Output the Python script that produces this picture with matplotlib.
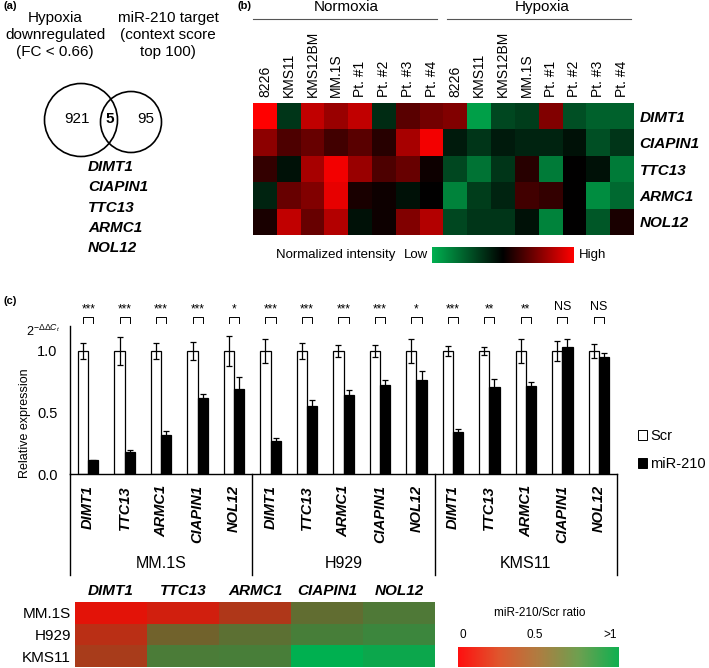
import numpy as np
import matplotlib
matplotlib.use('Agg')
import matplotlib.pyplot as plt
from matplotlib.colors import LinearSegmentedColormap
from matplotlib.patches import Circle, Patch

plt.rcParams['font.family'] = 'Liberation Sans'
plt.rcParams['mathtext.fontset'] = 'custom'
plt.rcParams['mathtext.rm'] = 'Liberation Sans'
plt.rcParams['mathtext.it'] = 'Liberation Sans:italic'

# ---- data ----
# (a) venn
set_a_title = 'Hypoxia\ndownregulated\n(FC < 0.66)'
set_b_title = 'miR-210 target\n(context score\ntop 100)'
only_a, both, only_b = 921, 5, 95
overlap_genes = ['DIMT1', 'CIAPIN1', 'TTC13', 'ARMC1', 'NOL12']

# (b) microarray heatmap
b_samples = ['8226', 'KMS11', 'KMS12BM', 'MM.1S', 'Pt. #1', 'Pt. #2', 'Pt. #3', 'Pt. #4']
b_conditions = ['Normoxia', 'Hypoxia']
b_genes = ['DIMT1', 'CIAPIN1', 'TTC13', 'ARMC1', 'NOL12']
dimt1 = [1.0, -0.3, 0.75, 0.6, 0.75, -0.25, 0.35, 0.45,
         0.5, -0.9, -0.4, -0.35, 0.5, -0.45, -0.55, -0.55]
ciapin1 = [0.55, 0.3, 0.4, 0.25, 0.35, 0.15, 0.65, 0.95,
           -0.15, -0.3, -0.15, -0.2, -0.2, -0.1, -0.45, -0.3]
ttc13 = [0.2, -0.1, 0.65, 0.95, 0.6, 0.3, 0.4, 0.05,
         -0.4, -0.65, -0.3, 0.15, -0.7, 0.0, -0.1, -0.7]
armc1 = [-0.2, 0.4, 0.5, 0.9, 0.1, 0.05, -0.1, 0.0,
         -0.75, -0.35, -0.2, 0.25, 0.2, 0.0, -0.8, -0.6]
nol12 = [0.1, 0.75, 0.4, 0.7, -0.1, 0.05, 0.5, 0.7,
         -0.4, -0.3, -0.3, -0.1, -0.75, 0.0, -0.5, 0.1]

# (c) qPCR
c_genes = ['DIMT1', 'TTC13', 'ARMC1', 'CIAPIN1', 'NOL12']
c_lines = ['MM.1S', 'H929', 'KMS11']
scr_mean = [1.0] * 15
scr_err = [0.065, 0.11, 0.065, 0.07, 0.12,
           0.095, 0.065, 0.05, 0.045, 0.10,
           0.04, 0.035, 0.10, 0.08, 0.06]
mir_mean = [0.11, 0.18, 0.315, 0.62, 0.69,
            0.27, 0.555, 0.64, 0.72, 0.765,
            0.34, 0.705, 0.715, 1.035, 0.95]
mir_err = [0.005, 0.012, 0.035, 0.03, 0.095,
           0.025, 0.045, 0.04, 0.045, 0.075,
           0.025, 0.065, 0.035, 0.065, 0.03]
sig = ['***', '***', '***', '***', '*',
       '***', '***', '***', '***', '*',
       '***', '**', '**', 'NS', 'NS']

# ---- figure ----
W, H = 709, 668
fig = plt.figure(figsize=(W / 100, H / 100), dpi=100)


def box(x0, y0, x1, y1):
    return [x0 / W, 1 - y1 / H, (x1 - x0) / W, (y1 - y0) / H]


# overlay in pixel coordinates for free text
ov = fig.add_axes([0, 0, 1, 1])
ov.set_xlim(0, W)
ov.set_ylim(H, 0)
ov.axis('off')

# ---- (a) ----
ov.text(4, 6, '(a)', fontsize=8, fontweight='bold', ha='left', va='center')
ov.text(55, 35, set_a_title, fontsize=11, ha='center', va='center', linespacing=1.3)
ov.text(168, 35, set_b_title, fontsize=11, ha='center', va='center', linespacing=1.3)
ov.add_patch(Circle((81, 120), 36.5, fill=False, lw=1.2, ec='black'))
ov.add_patch(Circle((131, 122), 30.5, fill=False, lw=1.2, ec='black'))
ov.text(77, 119, str(only_a), fontsize=11, ha='center', va='center')
ov.text(110, 119, str(both), fontsize=11, fontweight='bold', ha='center', va='center')
ov.text(146, 119, str(only_b), fontsize=11, ha='center', va='center')
for i, g in enumerate(overlap_genes):
    ov.text(88, 167 + i * 20.3, g, fontsize=11, fontweight='bold', fontstyle='italic',
            ha='left', va='center')

# ---- (b) ----
cmap_b = LinearSegmentedColormap.from_list('gkr', ['#00B050', '#000000', '#FF0000'])
mat_b = np.array([dimt1, ciapin1, ttc13, armc1, nol12])
axb = fig.add_axes(box(253, 103, 634, 235))
axb.imshow(mat_b, cmap=cmap_b, vmin=-1, vmax=1, aspect='auto', interpolation='nearest')
axb.set_xticks(range(16))
axb.set_xticklabels(b_samples * 2, rotation=90, fontsize=10)
axb.xaxis.tick_top()
axb.set_yticks(range(5))
axb.set_yticklabels(b_genes, fontsize=11, fontweight='bold', fontstyle='italic')
axb.yaxis.tick_right()
axb.tick_params(length=0, pad=4)
for s in axb.spines.values():
    s.set_visible(False)
ov.text(237, 6, '(b)', fontsize=8, fontweight='bold', ha='left', va='center')
ov.text(346, 7, b_conditions[0], fontsize=11, ha='center', va='center')
ov.text(542, 7, b_conditions[1], fontsize=11, ha='center', va='center')
ov.plot([253, 437], [19, 19], color='#555555', lw=0.8)
ov.plot([447, 631], [19, 19], color='#555555', lw=0.8)

axbc = fig.add_axes(box(432, 247, 574, 263))
axbc.imshow(np.linspace(-1, 1, 256)[None, :], cmap=cmap_b, aspect='auto')
axbc.axis('off')
ov.text(336, 255, 'Normalized intensity', fontsize=9.5, ha='center', va='center')
ov.text(416, 255, 'Low', fontsize=9.5, ha='center', va='center')
ov.text(579, 255, 'High', fontsize=9.5, ha='left', va='center')

# ---- (c) bars ----
ov.text(4, 301, '(c)', fontsize=8, fontweight='bold', ha='left', va='center')
axc = fig.add_axes(box(70, 326.4, 617, 474))
x = np.arange(15)
bw = 0.28
axc.bar(x - bw / 2, scr_mean, bw, yerr=scr_err, color='white', edgecolor='black',
        linewidth=0.9, capsize=2.5, error_kw=dict(elinewidth=0.9, capthick=0.9),
        label='Scr')
axc.bar(x + bw / 2, mir_mean, bw, yerr=mir_err, color='black', edgecolor='black',
        linewidth=0.9, capsize=2.5, error_kw=dict(elinewidth=0.9, capthick=0.9),
        label='miR-210')
axc.set_xlim(-0.5, 14.5)
axc.set_ylim(0, 1.2)
axc.set_yticks([0, 0.5, 1.0])
axc.set_yticklabels(['0.0', '0.5', '1.0'], fontsize=10.5)
axc.set_xticks(x)
axc.set_xticklabels(c_genes * 3, rotation=90, fontsize=10.5, fontweight='bold',
                    fontstyle='italic', va='top')
axc.tick_params(axis='x', length=0, pad=8)
axc.tick_params(axis='y', length=0, pad=9)
axc.spines['top'].set_visible(False)
axc.spines['right'].set_visible(False)
axc.spines['left'].set_linewidth(1.0)
axc.spines['bottom'].set_linewidth(1.0)

# significance brackets
for i, s in enumerate(sig):
    axc.plot([i - bw / 2, i - bw / 2, i + bw / 2, i + bw / 2],
             [1.228, 1.276, 1.276, 1.228], color='black', lw=0.7, clip_on=False)
    axc.text(i, 1.29 if s != 'NS' else 1.305, s, ha='center', va='bottom',
             fontsize=8.5 if s != 'NS' else 9, clip_on=False)

# group separators below axis
trans = axc.get_xaxis_transform()
drop = -(575 - 474) / 147.6
for xs in [-0.5, 4.5, 9.5, 14.5]:
    axc.plot([xs, xs], [0, drop], transform=trans, color='black', lw=1.0, clip_on=False)
for j, name in enumerate(c_lines):
    axc.text(j * 5 + 2, -(563 - 474) / 147.6, name, transform=trans, fontsize=11.5,
             ha='center', va='center')

ov.text(25, 423, 'Relative expression', fontsize=9, rotation=90, ha='center', va='center')
ov.text(43, 331, r'$2^{-\Delta\Delta C_{\mathit{t}}}$', fontsize=9, ha='center', va='center')

handles = [Patch(facecolor='white', edgecolor='black', lw=0.7),
           Patch(facecolor='black', edgecolor='black', lw=0.7)]
fig.legend(handles, ['Scr', 'miR-210'], loc='center left',
           bbox_to_anchor=(638 / W, 1 - 450 / H), frameon=False, fontsize=10.5,
           handlelength=0.65, handleheight=0.65, handletextpad=0.2, labelspacing=0.95,
           borderpad=0, borderaxespad=0)

# ---- (c) ratio heatmap ----
cmap_r = LinearSegmentedColormap.from_list('rg', ['#FF0000', '#00B050'])
ratio = np.array(mir_mean).reshape(3, 5) / np.array(scr_mean).reshape(3, 5)
axh = fig.add_axes(box(75, 602, 435, 667))
axh.imshow(ratio, cmap=cmap_r, vmin=0, vmax=1, aspect='auto', interpolation='nearest')
axh.set_xticks(range(5))
axh.set_xticklabels(c_genes, fontsize=11, fontweight='bold', fontstyle='italic')
axh.xaxis.tick_top()
axh.set_yticks(range(3))
axh.set_yticklabels(c_lines, fontsize=11)
axh.tick_params(length=0, pad=3)
for s in axh.spines.values():
    s.set_visible(False)

cmap_rb = LinearSegmentedColormap.from_list(
    'rgb', ['#FF1010', '#E0552D', '#AF7D41', '#6EA050', '#10B050'])
axhc = fig.add_axes(box(458, 647, 619, 667))
axhc.imshow(np.linspace(0, 1, 256)[None, :], cmap=cmap_rb, aspect='auto')
axhc.axis('off')
ov.text(540, 613, 'miR-210/Scr ratio', fontsize=8.5, ha='center', va='center')
ov.text(463, 635, '0', fontsize=8.5, ha='center', va='center')
ov.text(535, 635, '0.5', fontsize=8.5, ha='center', va='center')
ov.text(610, 635, '>1', fontsize=8.5, ha='center', va='center')

fig.savefig('out.png', dpi=100)
